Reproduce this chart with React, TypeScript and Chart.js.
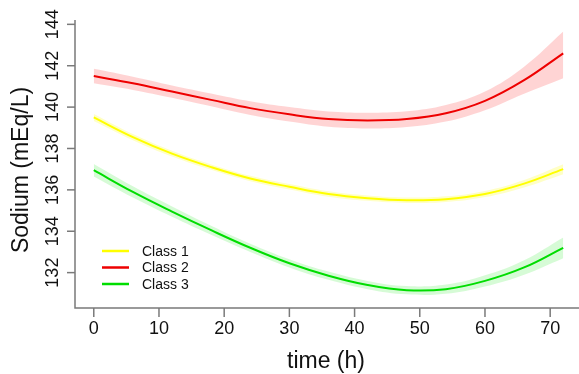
import React, { useEffect, useRef } from "react";
import { Chart, registerables } from "chart.js";

Chart.register(...registerables);

const TIME = [0, 6, 12, 18, 24, 30, 36, 42, 48, 54, 60, 66, 72];

const CLASS1_MEAN = [139.5, 138.55, 137.75, 137.1, 136.55, 136.15, 135.8, 135.6, 135.5, 135.55, 135.8, 136.3, 137.0];
const CLASS1_LOWER = [139.33, 138.4, 137.61, 136.97, 136.42, 136.02, 135.67, 135.47, 135.37, 135.41, 135.65, 136.12, 136.76];
const CLASS1_UPPER = [139.67, 138.7, 137.89, 137.23, 136.68, 136.28, 135.93, 135.73, 135.63, 135.69, 135.95, 136.48, 137.24];

const CLASS2_MEAN = [141.5, 141.15, 140.75, 140.35, 139.95, 139.65, 139.42, 139.35, 139.42, 139.7, 140.3, 141.3, 142.6];
const CLASS2_LOWER = [141.15, 140.83, 140.45, 140.04, 139.62, 139.3, 139.05, 138.97, 139.04, 139.3, 139.85, 140.65, 141.4];
const CLASS2_UPPER = [141.85, 141.47, 141.05, 140.66, 140.28, 140.0, 139.79, 139.73, 139.8, 140.1, 140.75, 141.95, 143.65];

const CLASS3_MEAN = [136.95, 135.9, 134.95, 134.05, 133.2, 132.45, 131.85, 131.4, 131.15, 131.2, 131.6, 132.25, 133.2];
const CLASS3_LOWER = [136.65, 135.63, 134.7, 133.83, 133.0, 132.25, 131.65, 131.2, 130.95, 130.98, 131.33, 131.9, 132.7];
const CLASS3_UPPER = [137.25, 136.17, 135.2, 134.27, 133.4, 132.65, 132.05, 131.6, 131.35, 131.42, 131.87, 132.6, 133.7];

const SERIES_LABELS = ["Class 1", "Class 2", "Class 3"];
const X_TICKS = [0, 10, 20, 30, 40, 50, 60, 70];
const Y_TICKS = [132, 134, 136, 138, 140, 142, 144];
const X_TITLE = "time (h)";
const Y_TITLE = "Sodium (mEq/L)";

const LINE_COLORS = ["#ffff00", "#ee0000", "#00dd00"];
const BAND_COLORS = ["rgba(255,255,0,0.22)", "rgba(255,0,0,0.17)", "rgba(0,230,0,0.16)"];

const FONT = "'Liberation Sans', Arial, sans-serif";

const pts = (ys: number[]) => TIME.map((t, i) => ({ x: t, y: ys[i] }));

export default function App() {
  const ref = useRef<HTMLCanvasElement | null>(null);

  useEffect(() => {
    document.body.style.margin = "0";
    const canvas = ref.current;
    if (!canvas) return;

    const means = [CLASS1_MEAN, CLASS2_MEAN, CLASS3_MEAN];
    const lowers = [CLASS1_LOWER, CLASS2_LOWER, CLASS3_LOWER];
    const uppers = [CLASS1_UPPER, CLASS2_UPPER, CLASS3_UPPER];

    const datasets: any[] = [];
    means.forEach((m, i) => {
      datasets.push({
        label: SERIES_LABELS[i],
        data: pts(m),
        borderColor: LINE_COLORS[i],
        borderWidth: 2,
        pointRadius: 0,
        tension: 0.4,
        fill: false,
        order: 0,
      });
    });
    means.forEach((_, i) => {
      datasets.push({
        label: "band-lower-" + i,
        data: pts(lowers[i]),
        borderWidth: 0,
        borderColor: "transparent",
        pointRadius: 0,
        tension: 0.4,
        fill: false,
        order: 1,
      });
      datasets.push({
        label: "band-upper-" + i,
        data: pts(uppers[i]),
        borderWidth: 0,
        borderColor: "transparent",
        backgroundColor: BAND_COLORS[i],
        pointRadius: 0,
        tension: 0.4,
        fill: "-1",
        order: 1,
      });
    });

    const axesPlugin = {
      id: "rAxes",
      afterDraw(chart: any) {
        const ctx = chart.ctx;
        const { left, right, top, bottom } = chart.chartArea;
        const xs = chart.scales.x;
        const ys = chart.scales.y;
        ctx.save();
        ctx.strokeStyle = "#7a7a7a";
        ctx.lineWidth = 1.5;
        ctx.beginPath();
        ctx.moveTo(left, top);
        ctx.lineTo(left, bottom);
        ctx.lineTo(right, bottom);
        ctx.stroke();

        ctx.fillStyle = "#111";
        // x ticks
        ctx.font = `18px ${FONT}`;
        ctx.textAlign = "center";
        ctx.textBaseline = "middle";
        X_TICKS.forEach((v) => {
          const px = xs.getPixelForValue(v);
          ctx.beginPath();
          ctx.moveTo(px, bottom);
          ctx.lineTo(px, bottom + 9);
          ctx.stroke();
          ctx.fillText(String(v), px, 329);
        });
        // y ticks
        Y_TICKS.forEach((v) => {
          const py = ys.getPixelForValue(v);
          ctx.beginPath();
          ctx.moveTo(left, py);
          ctx.lineTo(left - 8, py);
          ctx.stroke();
          ctx.save();
          ctx.translate(53, py);
          ctx.rotate(-Math.PI / 2);
          ctx.fillText(String(v), 0, 0);
          ctx.restore();
        });
        // titles
        ctx.font = `23px ${FONT}`;
        ctx.fillText(X_TITLE, 326, 362);
        ctx.save();
        ctx.translate(22, 170);
        ctx.rotate(-Math.PI / 2);
        ctx.fillText(Y_TITLE, 0, 0);
        ctx.restore();

        // legend
        const rows = [251, 267.5, 284];
        ctx.font = `14px ${FONT}`;
        ctx.textAlign = "left";
        SERIES_LABELS.forEach((lab, i) => {
          ctx.strokeStyle = LINE_COLORS[i];
          ctx.lineWidth = 2.5;
          ctx.beginPath();
          ctx.moveTo(102, rows[i]);
          ctx.lineTo(129, rows[i]);
          ctx.stroke();
          ctx.fillStyle = "#111";
          ctx.fillText(lab, 142, rows[i] + 1);
        });
        ctx.restore();
      },
    };

    const chart = new Chart(canvas, {
      type: "line",
      data: { datasets },
      options: {
        animation: false,
        responsive: false,
        devicePixelRatio: 1,
        layout: { padding: { left: 75, right: 0, top: 20, bottom: 66 } },
        plugins: { legend: { display: false }, tooltip: { enabled: false } },
        scales: {
          x: { type: "linear", min: -2.88, max: 74.42, display: false },
          y: { type: "linear", min: 130.29, max: 144.21, display: false },
        },
      },
      plugins: [axesPlugin],
    });
    return () => chart.destroy();
  }, []);

  return (
    <div style={{ width: 579, height: 374 }}>
      <canvas ref={ref} width={579} height={374} style={{ display: "block" }} />
    </div>
  );
}
